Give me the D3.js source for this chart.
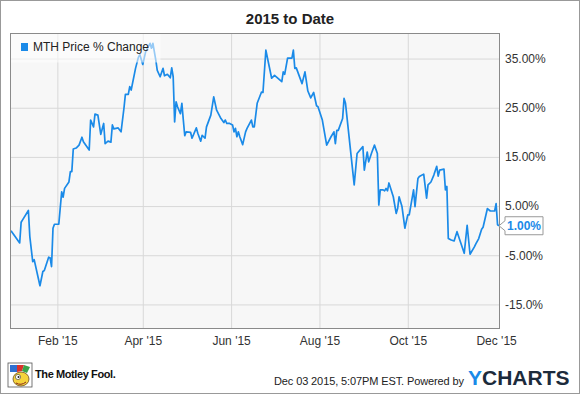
<!DOCTYPE html>
<head>
<meta charset="utf-8">
<script src="https://cdnjs.cloudflare.com/ajax/libs/d3/7.9.0/d3.min.js"></script>
<style>
  body { margin: 0; background: #fff; }
  svg text { font-family: Arial, "Liberation Sans", sans-serif; }
</style>
</head>
<body>
<div id="chart"></div>
</body>
<script>

// data (percent change since Dec 31 2014)

const dates = [
  "2014-12-31","2015-01-06","2015-01-07","2015-01-08","2015-01-12","2015-01-13","2015-01-15","2015-01-16",
  "2015-01-20","2015-01-22","2015-01-23","2015-01-26","2015-01-27","2015-01-28","2015-01-29","2015-01-30",
  "2015-02-02","2015-02-04","2015-02-05","2015-02-06","2015-02-09","2015-02-10","2015-02-11","2015-02-12",
  "2015-02-14","2015-02-16","2015-02-18","2015-02-19","2015-02-23","2015-02-24","2015-02-26","2015-02-27",
  "2015-03-01","2015-03-03","2015-03-05","2015-03-06","2015-03-08","2015-03-10","2015-03-11","2015-03-12",
  "2015-03-15","2015-03-17","2015-03-19","2015-03-20","2015-03-22","2015-03-23","2015-03-24","2015-03-27",
  "2015-03-29","2015-03-30","2015-04-01","2015-04-03","2015-04-06","2015-04-07","2015-04-08","2015-04-10",
  "2015-04-11","2015-04-13","2015-04-15","2015-04-16","2015-04-18","2015-04-20","2015-04-21","2015-04-22",
  "2015-04-23","2015-04-24","2015-04-25","2015-04-27","2015-04-28","2015-04-29","2015-04-30","2015-05-01",
  "2015-05-04","2015-05-05","2015-05-08","2015-05-09","2015-05-11","2015-05-12","2015-05-14","2015-05-15",
  "2015-05-18","2015-05-20","2015-05-22","2015-05-25","2015-05-27","2015-05-28","2015-05-29","2015-05-31",
  "2015-06-02","2015-06-03","2015-06-04","2015-06-05","2015-06-06","2015-06-07","2015-06-09","2015-06-11",
  "2015-06-12","2015-06-15","2015-06-16","2015-06-17","2015-06-19","2015-06-22","2015-06-23","2015-06-25",
  "2015-06-29","2015-07-01","2015-07-06","2015-07-07","2015-07-08","2015-07-10","2015-07-13","2015-07-14",
  "2015-07-15","2015-07-16","2015-07-20","2015-07-22","2015-07-24","2015-07-26","2015-07-28","2015-07-30",
  "2015-07-31","2015-08-03","2015-08-06","2015-08-09","2015-08-11","2015-08-12","2015-08-13","2015-08-14",
  "2015-08-17","2015-08-18","2015-08-19","2015-08-25","2015-08-27","2015-08-31","2015-09-01","2015-09-03",
  "2015-09-04","2015-09-06","2015-09-08","2015-09-10","2015-09-11","2015-09-12","2015-09-14","2015-09-15",
  "2015-09-16","2015-09-17","2015-09-18","2015-09-21","2015-09-23","2015-09-24","2015-09-25","2015-09-27",
  "2015-09-29","2015-10-01","2015-10-02","2015-10-05","2015-10-06","2015-10-08","2015-10-09","2015-10-12",
  "2015-10-14","2015-10-15","2015-10-17","2015-10-19","2015-10-21","2015-10-22","2015-10-23","2015-10-26",
  "2015-10-27","2015-10-28","2015-10-29","2015-10-31","2015-11-02","2015-11-04","2015-11-09","2015-11-11",
  "2015-11-13","2015-11-16","2015-11-17","2015-11-19","2015-11-21","2015-11-22","2015-11-25","2015-11-27",
  "2015-11-30","2015-12-01","2015-12-02","2015-12-03"
]

const values = [
  0.0, -2.5, 1.7, 2.2, 4.1, -1.2, -6.3, -5.9,
  -11.2, -8.3, -8.1, -5.4, -5.5, -7.3, 0.5, 1.3,
  1.3, 7.9, 6.8, 8.6, 9.9, 12.0, 12.0, 16.6,
  16.8, 17.4, 19.0, 18.1, 16.4, 22.5, 21.1, 23.7,
  23.5, 19.6, 21.8, 17.7, 18.2, 18.0, 21.5, 20.7,
  20.9, 20.1, 24.9, 27.7, 27.7, 29.3, 28.6, 33.0,
  35.3, 35.8, 33.8, 36.4, 38.1, 37.1, 38.1, 34.7,
  32.6, 31.3, 33.0, 31.5, 31.8, 31.1, 33.1, 31.3,
  22.1, 26.2, 25.2, 23.8, 25.9, 22.5, 19.3, 20.1,
  20.0, 18.8, 20.9, 19.8, 18.2, 19.4, 18.8, 21.1,
  23.5, 27.2, 24.5, 22.8, 22.0, 22.5, 21.8, 21.8,
  21.5, 20.1, 20.8, 19.1, 20.1, 19.1, 17.5, 20.1,
  20.8, 22.5, 21.1, 21.1, 25.9, 28.2, 28.1, 36.7,
  31.0, 31.6, 30.3, 32.3, 31.8, 35.1, 35.1, 36.7,
  33.0, 33.1, 29.9, 32.3, 28.4, 27.0, 28.1, 25.4,
  25.2, 22.5, 17.4, 19.1, 20.1, 17.7, 20.4, 20.4,
  22.8, 26.9, 25.9, 9.3, 15.7, 17.1, 12.3, 16.0,
  14.0, 15.8, 17.4, 15.7, 5.2, 8.3, 8.3, 8.1,
  8.6, 8.1, 9.7, 6.9, 3.5, 4.5, 6.9, 4.9,
  0.5, 3.2, 3.2, 8.3, 4.9, 10.6, 11.0, 11.5,
  6.6, 9.3, 9.9, 11.3, 13.1, 11.1, 12.3, 12.5,
  8.3, 9.0, -1.6, -1.9, -2.1, -0.2, -4.6, 1.1,
  -4.8, -3.3, -2.7, -1.6, 0.3, 0.7, 4.5, 4.0,
  4.0, 5.5, 1.2, 1.0
]

const seriesName = "MTH Price % Change"
const lastLabel = "1.00%"

const yTicks = [35, 25, 15, 5, -5, -15]
const yTickLabels = ["35.00%", "25.00%", "15.00%", "5.00%", "-5.00%", "-15.0%"]

const xTicks = ["2015-02-01", "2015-04-01", "2015-06-01", "2015-08-01", "2015-10-01", "2015-12-01"]
const xTickLabels = ["Feb '15", "Apr '15", "Jun '15", "Aug '15", "Oct '15", "Dec '15"]

const title = "2015 to Date"
const footerDate = "Dec 03 2015, 5:07PM EST.  Powered by"

// layout

const W = 580, H = 394
const plot = {left: 10, right: 500, top: 33, bottom: 329}
const lineColor = "#1a8ae8"

const parseDate = d3.timeParse("%Y-%m-%d")
const data = dates.map((d, i) => ({date: parseDate(d), value: values[i]}))

const svg = d3.select("#chart")
  .append("svg")
  .attr("width", W)
  .attr("height", H)

svg.append("rect")
  .attr("width", W).attr("height", H)
  .attr("fill", "#fff")

// scales

const x = d3.scaleTime()
  .domain([parseDate("2014-12-31"), parseDate("2015-12-03")])
  .range([plot.left + 1, plot.right - 1])

const y = d3.scaleLinear()
  .domain([-20, 40.2])
  .range([plot.bottom, plot.top])

// plot background

svg.append("rect")
  .attr("x", plot.left).attr("y", plot.top)
  .attr("width", plot.right - plot.left)
  .attr("height", plot.bottom - plot.top)
  .attr("fill", "#f7f7f7")

// gridlines

const xGridTicks = xTicks.slice(0, 5).map(parseDate)

svg.append("g")
  .attr("transform", `translate(0,${plot.bottom})`)
  .call(d3.axisBottom(x).tickValues(xGridTicks).tickSize(-(plot.bottom - plot.top)).tickFormat(""))
  .call(g => g.select(".domain").remove())
  .call(g => g.selectAll("line").attr("stroke", "#d8d8d8"))

svg.append("g")
  .attr("transform", `translate(${plot.left},0)`)
  .call(d3.axisRight(y).tickValues(yTicks).tickSize(plot.right - plot.left).tickFormat(""))
  .call(g => g.select(".domain").remove())
  .call(g => g.selectAll("line").attr("stroke", "#d8d8d8"))

// the line

const line = d3.line()
  .x(d => x(d.date))
  .y(d => y(d.value))

svg.append("path")
  .datum(data)
  .attr("fill", "none")
  .attr("stroke", lineColor)
  .attr("stroke-width", 1.7)
  .attr("stroke-linejoin", "round")
  .attr("d", line)

// legend, semi-transparent over the line

svg.append("rect")
  .attr("x", plot.left + 0.5).attr("y", plot.top + 0.5)
  .attr("width", 150).attr("height", 29)
  .attr("fill", "#fff")
  .attr("opacity", 0.55)

svg.append("rect")
  .attr("x", 21).attr("y", 43)
  .attr("width", 7).attr("height", 8)
  .attr("fill", lineColor)

svg.append("text")
  .attr("x", 33).attr("y", 51)
  .attr("font-size", 12)
  .attr("fill", "#222")
  .text(seriesName)

// plot border

svg.append("rect")
  .attr("x", plot.left + 0.5).attr("y", plot.top + 0.5)
  .attr("width", plot.right - plot.left - 1)
  .attr("height", plot.bottom - plot.top - 1)
  .attr("fill", "none")
  .attr("stroke", "#8a8a8a")

// axis labels

svg.append("g")
  .attr("transform", `translate(${plot.right},0)`)
  .call(d3.axisRight(y).tickValues(yTicks).tickSize(0).tickPadding(5)
    .tickFormat((d, i) => yTickLabels[i]))
  .call(g => g.select(".domain").remove())
  .call(g => g.selectAll("text")
    .attr("font-size", 12)
    .attr("font-family", "Arial, 'Liberation Sans', sans-serif")
    .attr("fill", "#333"))

svg.append("g")
  .attr("transform", `translate(0,${plot.bottom})`)
  .call(d3.axisBottom(x).tickValues(xTicks.map(parseDate)).tickSize(0).tickPadding(7)
    .tickFormat((d, i) => xTickLabels[i]))
  .call(g => g.select(".domain").remove())
  .call(g => g.selectAll("text")
    .attr("font-size", 12)
    .attr("font-family", "Arial, 'Liberation Sans', sans-serif")
    .attr("fill", "#333"))

// last value flag

const last = data[data.length - 1]
const lx = x(last.date), ly = y(last.value)

svg.append("path")
  .attr("d", `M${lx},${ly} L${lx + 6},${ly - 5} L${lx + 6},${ly - 9} L${lx + 44},${ly - 9} L${lx + 44},${ly + 9} L${lx + 6},${ly + 9} L${lx + 6},${ly + 5} Z`)
  .attr("fill", "#fff")
  .attr("stroke", "#999")

svg.append("text")
  .attr("x", lx + 8).attr("y", ly + 4.5)
  .attr("font-size", 12)
  .attr("font-weight", "bold")
  .attr("fill", lineColor)
  .text(lastLabel)

// title

svg.append("text")
  .attr("x", 290).attr("y", 24)
  .attr("text-anchor", "middle")
  .attr("font-size", 15)
  .attr("font-weight", "bold")
  .attr("fill", "#222")
  .text(title)

// footer: motley fool mark

const logo = svg.append("g").attr("transform", "translate(8,363)")
logo.append("rect").attr("width", 24).attr("height", 24).attr("fill", "#fff").attr("stroke", "#555").attr("stroke-width", 0.8)
logo.append("path").attr("d", "M2,2 L9,2 L9,9 L2,9 Z").attr("fill", "#2f6fd0")
logo.append("path").attr("d", "M9,2 L16,2 L14,8 L9,9 Z").attr("fill", "#d9312b")
logo.append("path").attr("d", "M16,2 L22,4 L19,10 L14,8 Z").attr("fill", "#3aa34a")
logo.append("ellipse").attr("cx", 13).attr("cy", 16).attr("rx", 8).attr("ry", 7).attr("fill", "#f5d33c").attr("stroke", "#6b4a1e").attr("stroke-width", 0.8)
logo.append("circle").attr("cx", 10).attr("cy", 14).attr("r", 2.6).attr("fill", "#fff").attr("stroke", "#333").attr("stroke-width", 0.6)
logo.append("circle").attr("cx", 10.5).attr("cy", 14).attr("r", 1).attr("fill", "#222")
logo.append("path").attr("d", "M8,20 Q13,23 18,19").attr("fill", "none").attr("stroke", "#8a2a1a").attr("stroke-width", 1)

svg.append("text")
  .attr("x", 35).attr("y", 378)
  .attr("font-size", 11)
  .attr("font-weight", "bold")
  .attr("letter-spacing", -0.4)
  .attr("fill", "#111")
  .text("The Motley Fool.")

svg.append("text")
  .attr("x", 274).attr("y", 385)
  .attr("font-size", 11)
  .attr("fill", "#222")
  .attr("textLength", 190)
  .text(footerDate)

const yc = svg.append("text")
  .attr("x", 468).attr("y", 385)
  .attr("font-size", 21)
  .attr("font-weight", "bold")
  .attr("fill", "#1c2b3c")
yc.append("tspan").attr("fill", lineColor).text("Y")
yc.append("tspan").text("CHARTS")

// outer frame

svg.append("rect")
  .attr("x", 0.5).attr("y", 0.5)
  .attr("width", W - 1).attr("height", H - 1)
  .attr("fill", "none")
  .attr("stroke", "#999")

</script>
